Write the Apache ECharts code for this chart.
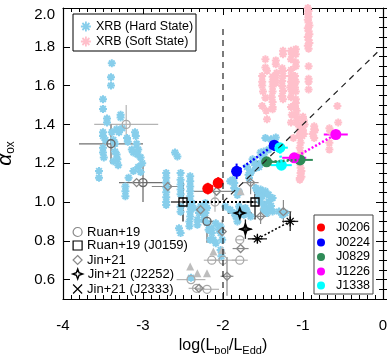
<!DOCTYPE html>
<html><head><meta charset="utf-8">
<script src="https://cdn.jsdelivr.net/npm/echarts@6/dist/echarts.min.js"></script>
<style>html,body{margin:0;padding:0;background:#fff}#c{width:391px;height:364px}</style>
</head><body><div id="c"></div>
<script>
// ---- axis ticks ----
const xTicks = [-4, -3, -2, -1, 0];
const yTicks = [0.6, 0.8, 1.0, 1.2, 1.4, 1.6, 1.8, 2.0];

// ---- XRB samples [log(Lbol/LEdd), alpha_ox] ----
const hardXRB = [
 [-3.39,1.715],[-3.40,1.643],[-3.40,1.60],[-3.50,1.53],[-3.50,1.48],[-3.45,1.43],[-3.45,1.41],[-3.50,1.36],[-3.50,1.34],
 [-3.47,1.32],[-3.50,1.28],[-3.50,1.255],[-3.49,1.23],[-3.39,1.36],[-3.37,1.32],[-3.35,1.30],[-3.33,1.375],[-3.30,1.36],
 [-3.26,1.38],[-3.28,1.45],[-3.28,1.435],[-3.35,1.26],[-3.33,1.245],[-3.32,1.22],[-3.31,1.19],[-3.37,1.21],[-3.20,1.33],
 [-3.19,1.31],[-3.10,1.36],[-3.09,1.34],[-3.14,1.27],[-3.12,1.255],[-3.08,1.30],[-3.06,1.27],[-3.07,1.245],[-3.03,1.23],
 [-3.01,1.20],[-3.06,1.18],[-3.03,1.155],[-3.12,1.16],[-3.18,1.125],[-3.55,1.16],[-3.55,1.125],[-3.22,1.08],[-3.22,1.055],
 [-3.22,1.03],
 [-2.71,1.15],[-2.71,1.125],[-2.71,1.10],[-2.71,1.075],[-2.71,1.05],[-2.71,1.025],[-2.71,1.00],[-2.71,0.985],
 [-2.53,1.115],[-2.53,1.09],[-2.53,1.065],[-2.53,1.04],[-2.53,0.975],[-2.53,0.95],[-2.55,0.865],[-2.53,0.84],[-2.60,1.255],
 [-2.57,1.235],[-2.53,1.15],
 [-2.41,1.133],[-2.41,1.107],[-2.41,1.08],[-2.41,1.055],[-2.41,1.03],[-2.41,1.003],[-2.41,0.975],[-2.41,0.95],[-2.41,0.925],
 [-2.42,0.90],[-2.42,0.875],
 [-2.30,0.943],[-2.28,0.977],[-2.26,0.943],[-2.24,0.909],[-2.20,0.892],[-2.18,0.857],[-2.14,0.84],[-2.16,0.805],[-2.09,0.788],
 [-2.05,0.857],[-2.03,0.84],[-2.01,0.805],[-2.03,0.753],[-2.02,0.72],[-2.40,0.61],[-2.03,0.874],
 [-2.22,0.995],[-2.20,0.969],[-2.22,0.943],[-2.39,0.995],[-2.37,0.969],[-2.32,0.909],[-2.32,0.883],[-2.09,0.89],[-2.14,0.865],
 [-2.12,0.805],
 [-1.88,1.115],[-1.86,1.098],[-1.86,1.072],[-1.91,1.107],[-1.84,0.925],[-1.82,0.90],[-1.80,0.943],[-1.80,0.977],[-1.78,0.96],
 [-1.72,0.969],[-1.70,0.951],[-1.74,0.934],[-1.655,0.925],[-1.82,1.036],[-1.80,1.053],[-1.97,0.977],[-1.91,0.96],[-1.86,0.943],
 [-1.59,1.072],[-1.57,1.055],[-1.53,1.064],[-1.49,1.047],[-1.51,1.03],[-1.55,1.03],[-1.53,1.003],[-1.49,0.986],[-1.47,0.969],
 [-1.43,0.96],[-1.45,0.943],[-1.43,1.003],[-1.40,0.98],[-1.47,1.055],[-1.43,1.038],[-1.38,1.021],[-1.49,0.96],[-1.38,0.951],
 [-1.30,0.951],[-1.26,0.934],[-1.22,0.943],[-1.655,1.15],[-1.675,1.124],
 [-1.40,1.323],[-1.34,1.333],[-1.37,1.29],[-1.43,1.27],[-1.49,1.26],[-1.51,1.235],[-1.53,1.20],[-1.55,1.18],[-1.655,1.155],
 [-1.68,1.14],[-1.70,1.18],[-1.47,1.33],[-1.36,1.31],[-1.53,1.255],[-1.49,1.245],[-1.63,1.22],[-1.61,1.20],[-1.59,1.175]
];
const softXRB = [
 [-0.94,2.0],[-0.93,1.985],[-0.94,1.97],[-0.93,1.955],[-0.94,1.94],[-0.93,1.925],[-0.92,1.91],[-0.94,1.895],[-0.93,1.88],
 [-0.92,1.865],[-0.94,1.85],[-0.93,1.835],[-0.92,1.82],[-0.94,1.805],[-0.93,1.79],[-0.93,1.70],[-0.93,1.635],[-0.93,1.62],
 [-0.93,1.58],
 [-1.47,1.736],[-1.47,1.693],[-1.45,1.676],[-1.51,1.65],[-1.51,1.62],[-1.51,1.60],[-1.50,1.57],[-1.51,1.495],[-1.46,1.47],
 [-1.45,1.426],[-1.47,1.538],
 [-1.38,1.645],[-1.38,1.62],[-1.38,1.595],[-1.38,1.57],[-1.39,1.54],[-1.38,1.515],[-1.38,1.49],[-1.38,1.478],
 [-1.34,1.73],[-1.34,1.71],[-1.33,1.665],[-1.34,1.64],[-1.34,1.615],
 [-1.25,1.78],[-1.25,1.762],[-1.26,1.69],[-1.25,1.675],[-1.25,1.65],[-1.26,1.624],[-1.26,1.598],[-1.25,1.572],[-1.26,1.547],
 [-1.25,1.53],
 [-1.15,1.78],[-1.14,1.762],[-1.15,1.736],[-1.15,1.68],[-1.15,1.65],[-1.15,1.62],[-1.16,1.59],[-1.14,1.57],[-1.15,1.54],
 [-1.09,1.788],[-1.09,1.762],[-1.09,1.72],[-1.09,1.70],[-1.10,1.65],[-1.09,1.62],[-1.10,1.59],[-1.09,1.57],
 [-1.09,1.53],[-1.09,1.51],[-1.10,1.49],[-1.08,1.47],[-1.09,1.45],[-1.07,1.43],[-1.08,1.41],[-1.06,1.40],
 [-1.15,1.49],[-1.14,1.45],[-1.15,1.41],
 [-1.00,1.44],[-0.99,1.42],[-0.98,1.40],[-1.00,1.37],[-0.99,1.35],[-1.03,1.36],[-1.05,1.34],[-1.01,1.34],
 [-0.86,1.39],[-0.85,1.37],[-0.86,1.33],[-0.67,1.38],[-0.66,1.365],[-0.57,1.495],[-0.56,1.41],
 [-1.04,1.374],[-1.04,1.34],[-1.03,1.305],[-1.04,1.28],[-1.03,1.254],[-1.05,1.236],[-1.04,1.20],[-1.03,1.176],[-1.03,1.15],
 [-1.04,1.124],[-1.02,1.16],[-1.02,1.13],[-1.04,1.115],
 [-0.86,1.375],[-0.88,1.35],[-0.67,1.305],[-0.67,1.27],[-1.12,1.33],[-1.01,1.39]
];

// ---- literature AGN: [x, y, xerr, yerr] ----
const ruan19Light = [[-3.21,1.40,0.40,0.10],[-2.10,1.0,0,0.05],[-2.14,0.70,0.1,0],[-2.00,0.70,0.17,0],[-1.79,0.70,0.1,0],
 [-1.79,0.805,0.05,0],[-2.40,0.60,0.18,0],[-2.33,0.555,0.1,0],[-2.20,0.55,0.15,0]];
const ruan19Dark = [[-3.40,1.30,0.40,0.10],[-3.00,1.10,0.30,0.10],[-2.20,0.90,0.08,0.11]];
const ruan19J0159 = [[-2.50,1.0,0.15,0.10],[-1.60,1.0,0.16,0.09]];
const jin21 = [[-3.08,1.10,0,0],[-2.69,1.08,0.2,0],[-2.08,1.055,0.33,0],[-2.28,0.96,0.1,0],[-2.01,0.848,0,0.06],
 [-1.78,0.76,0.1,0],[-1.95,0.617,0.08,0.1],[-1.655,1.10,0.1,0.06],[-1.53,0.926,0.1,0.04],[-1.245,0.95,0.1,0.06],[-2.30,0.555,0,0]];
const jin21Limits = [[-2.41,0.667],[-2.32,0.633],[-2.20,0.633],[-2.12,0.745],[-2.01,0.753],[-1.78,1.055]];
const jin21J2252 = [[-1.79,0.943,0.15,0.05],[-1.72,0.86,0.08,0.05]];
const jin21J2333 = [[-1.57,0.81,0.12,0.02],[-1.16,0.90,0.1,0.05]];

// ---- this work: two epochs each [x, y, xerr, yerr] ----
const J0206 = [[-2.19,1.069,0,0.03],[-2.06,1.098,0,0.03]];
const J0224 = [[-1.83,1.158,0,0.04],[-1.36,1.293,0,0.03]];
const J0829 = [[-1.455,1.207,0.16,0],[-1.037,1.217,0.16,0]];
const J1226 = [[-1.11,1.228,0.15,0],[-0.59,1.348,0.15,0]];
const J1338 = [[-1.29,1.28,0.1,0],[-1.27,1.19,0.13,0]];

// ---- reference lines ----
const vLine = [[-2,0.5],[-2,1.9]];
const diagLine = [[-2,1.0],[-0.05,1.78]];

const FONT = 'Liberation Sans, Arial, Helvetica, sans-serif';
const ASTER = 'path://M0,-5L0,5M-5,0L5,0M-3.5,-3.5L3.5,3.5M-3.5,3.5L3.5,-3.5';
const STAR4 = 'path://M0,-6L1.6,-1.6L6,0L1.6,1.6L0,6L-1.6,1.6L-6,0L-1.6,-1.6Z';
const CROSS = 'path://M-4,-4L4,4M-4,4L4,-4';
const HARD_C = '#87ceeb', SOFT_C = '#ffc0cb';

function errBars(data, color, width) {
  return {
    type: 'custom', silent: true, data: data, encode: {x: 0, y: 1},
    renderItem: function (params, api) {
      const x = api.value(0), y = api.value(1), ex = api.value(2), ey = api.value(3);
      const ch = [];
      if (ex > 0) {
        const a = api.coord([x - ex, y]), b = api.coord([x + ex, y]);
        ch.push({type: 'line', shape: {x1: a[0], y1: a[1], x2: b[0], y2: b[1]}, style: {stroke: color, lineWidth: width}});
      }
      if (ey > 0) {
        const a = api.coord([x, y - ey]), b = api.coord([x, y + ey]);
        ch.push({type: 'line', shape: {x1: a[0], y1: a[1], x2: b[0], y2: b[1]}, style: {stroke: color, lineWidth: width}});
      }
      return {type: 'group', children: ch};
    }
  };
}
function pts(name, data, symbol, size, fill, stroke, bw) {
  return {type: 'scatter', name: name, data: data.map(d => [d[0], d[1]]), symbol: symbol, symbolSize: size,
    itemStyle: {color: fill, borderColor: stroke, borderWidth: bw, opacity: 1}, emphasis: {disabled: true}};
}
function link(data, color, width, type) {
  return {type: 'line', data: data.map(d => [d[0], d[1]]), symbol: 'none', silent: true,
    lineStyle: {color: color, width: width, type: type}};
}

const series = [
  pts('XRB (Soft State)', softXRB, ASTER, 8, 'rgba(0,0,0,0)', SOFT_C, 2),
  pts('XRB (Hard State)', hardXRB, ASTER, 8, 'rgba(0,0,0,0)', HARD_C, 2),
  link(vLine, '#222', 1.2, [6, 5]),
  link(diagLine, '#222', 1.2, [6, 5]),
  errBars(ruan19Light, '#b4b4b4', 1.2),
  errBars(jin21, '#8a8a8a', 1.2),
  errBars(ruan19Dark, '#707070', 1.3),
  pts('limits', jin21Limits, 'triangle', 8, '#bdbdbd', '#bdbdbd', 0),
  pts('Ruan+19', ruan19Light, 'circle', 8, 'rgba(0,0,0,0)', '#a8a8a8', 1.3),
  pts('Ruan dark', ruan19Dark, 'circle', 8, 'rgba(0,0,0,0)', '#666', 1.4),
  pts('Jin+21', jin21, 'diamond', 8, 'rgba(0,0,0,0)', '#888', 1.3),
  link(ruan19J0159, '#000', 2, [2, 2]),
  link(jin21J2333, '#000', 1.5, [2, 2]),
  errBars(ruan19J0159, '#222', 1.3),
  errBars(jin21J2252, '#222', 1.3),
  errBars(jin21J2333, '#222', 1.3),
  pts('Ruan+19 (J0159)', ruan19J0159, 'rect', 8, 'rgba(0,0,0,0)', '#000', 1.3),
  pts('Jin+21 (J2252)', jin21J2252, STAR4, 10, 'rgba(0,0,0,0)', '#000', 1.8),
  pts('Jin+21 (J2333)', jin21J2333, 'path://M0,-6L0,6M-6,0L6,0M-4.2,-4.2L4.2,4.2M-4.2,4.2L4.2,-4.2', 10, 'rgba(0,0,0,0)', '#000', 1.3)
];
const colored = [['J0206', J0206, '#ff0000'], ['J0224', J0224, '#0000ff'], ['J0829', J0829, '#2e8b57'],
                 ['J1226', J1226, '#ff00ff'], ['J1338', J1338, '#00ffff']];
colored.forEach(c => {
  series.push(link(c[1], c[2], 2.5, [2, 2]));
  series.push(errBars(c[1], c[2], 2));
});
colored.forEach(c => { series.push(pts(c[0], c[1], 'circle', 11, c[2], c[2], 0)); });

const baseAxisX = {type: 'value', min: -4, max: 0, interval: 1,
  axisLine: {show: true, onZero: false, lineStyle: {color: '#000', width: 1.2}},
  axisTick: {show: true, inside: true, length: 7, lineStyle: {color: '#000', width: 1}},
  minorTick: {show: true, splitNumber: 10, length: 4, lineStyle: {color: '#000', width: 1}},
  splitLine: {show: false}, minorSplitLine: {show: false}};
const xAxes = [
  Object.assign({}, baseAxisX, {position: 'bottom',
    axisLabel: {show: true, margin: 19, fontSize: 15, color: '#000', fontFamily: FONT, formatter: v => String(v)},
    name: '{n|log(L}{s|bol}{n|/L}{s|Edd}{n|)}', nameLocation: 'middle', nameGap: 33,
    nameTextStyle: {fontFamily: FONT, color: '#000',
      rich: {n: {fontSize: 16, fontFamily: FONT, color: '#000', lineHeight: 22},
             s: {fontSize: 11, fontFamily: FONT, color: '#000', verticalAlign: 'bottom', lineHeight: 11}}}}),
  Object.assign({}, baseAxisX, {position: 'top', axisLabel: {show: false}})
];
const yMain = {type: 'value', min: 0.5, max: 2.0,
  axisLine: {show: true, onZero: false, lineStyle: {color: '#000', width: 1.2}},
  axisTick: {show: true, inside: true, length: 7, customValues: yTicks, lineStyle: {color: '#000', width: 1}},
  splitLine: {show: false}};
const yMinor = {type: 'value', min: 0.5, max: 2.0, interval: 0.05,
  axisLine: {show: false}, axisLabel: {show: false},
  axisTick: {show: true, inside: true, length: 4, lineStyle: {color: '#000', width: 1}},
  splitLine: {show: false}};
const yAxes = [
  Object.assign({}, yMain, {position: 'left',
    axisLabel: {show: true, customValues: yTicks, margin: 8, fontSize: 15, color: '#000', fontFamily: FONT,
      formatter: v => (Math.abs(v - 2) < 1e-6 ? '{t|2.0}' : v.toFixed(1)),
      rich: {t: {fontSize: 15, color: '#000', fontFamily: FONT, padding: [14, 0, 0, 0]}}},
    name: '{a|α}{s|ox}', nameLocation: 'middle', nameGap: 46, nameRotate: 90,
    nameTextStyle: {rich: {a: {fontSize: 21, fontStyle: 'italic', fontFamily: FONT, color: '#000', lineHeight: 24},
                           s: {fontSize: 12, fontFamily: FONT, color: '#000', verticalAlign: 'bottom', lineHeight: 12}}}}),
  Object.assign({}, yMinor, {position: 'left'}),
  Object.assign({}, yMain, {position: 'right', axisLabel: {show: false}}),
  Object.assign({}, yMinor, {position: 'right'})
];

// legend frames: a blank legend item whose icon is the framed box
function legendFrame(name, left, top, w, h, stroke) {
  return {left: left, top: top, padding: 0, itemWidth: w, itemHeight: h, selectedMode: false, z: 5,
    formatter: () => '', textStyle: {fontSize: 1},
    data: [{name: name, icon: 'rect', itemStyle: {color: '#fff', borderColor: stroke, borderWidth: 1}}]};
}
// one legend component per row so rows sit exactly where the reference has them
function legendRow(name, icon, style, left, centerY, iw, ih, fontSize, textPad) {
  return {orient: 'vertical', left: left, top: centerY - ih / 2, padding: 0, itemWidth: iw, itemHeight: ih,
    selectedMode: false, z: 6,
    textStyle: {fontSize: fontSize, fontFamily: FONT, color: '#000', padding: textPad || 0},
    data: [{name: name, icon: icon, itemStyle: style}]};
}
const hollow = (c, w) => ({color: 'rgba(0,0,0,0)', borderColor: c, borderWidth: w});
const legends = [
  legendFrame('XRB (Hard State)', 72.5, 13.5, 123, 37, '#000'),
  legendFrame('J0206', 313.5, 214.5, 59, 79, '#444'),
  legendRow('XRB (Hard State)', ASTER, hollow(HARD_C, 1.8), 80, 25, 10, 10, 12.5),
  legendRow('XRB (Soft State)', ASTER, hollow(SOFT_C, 1.8), 80, 40, 10, 10, 12.5),
  legendRow('Ruan+19', 'circle', hollow('#888', 1.2), 72.5, 230, 9, 9, 13),
  legendRow('Ruan+19 (J0159)', 'rect', hollow('#000', 1.2), 72.5, 243.5, 9, 9, 13),
  legendRow('Jin+21', 'diamond', hollow('#888', 1.2), 72.5, 258, 9, 9, 13),
  legendRow('Jin+21 (J2252)', STAR4, hollow('#000', 1.4), 72, 272.5, 10, 10, 13),
  legendRow('Jin+21 (J2333)', CROSS, hollow('#000', 1.2), 72.5, 287, 9, 9, 13)
];
const boxRows = [225, 240, 254.5, 269, 283];
colored.forEach((c, i) => legends.push(
  legendRow(c[0], 'circle', {color: c[2], borderWidth: 0}, 317, boxRows[i], 8, 8, 12.5, [0, 0, 0, 6])));

const option = {
  animation: false,
  backgroundColor: '#fff',
  grid: {left: 63, right: 8, top: 8, bottom: 65, containLabel: false, outerBoundsMode: 'none'},
  xAxis: xAxes,
  yAxis: yAxes,
  legend: legends,
  series: series
};
const chart = echarts.init(document.getElementById('c'), null, {renderer: 'canvas'});
chart.setOption(option);
</script>
</body></html>
